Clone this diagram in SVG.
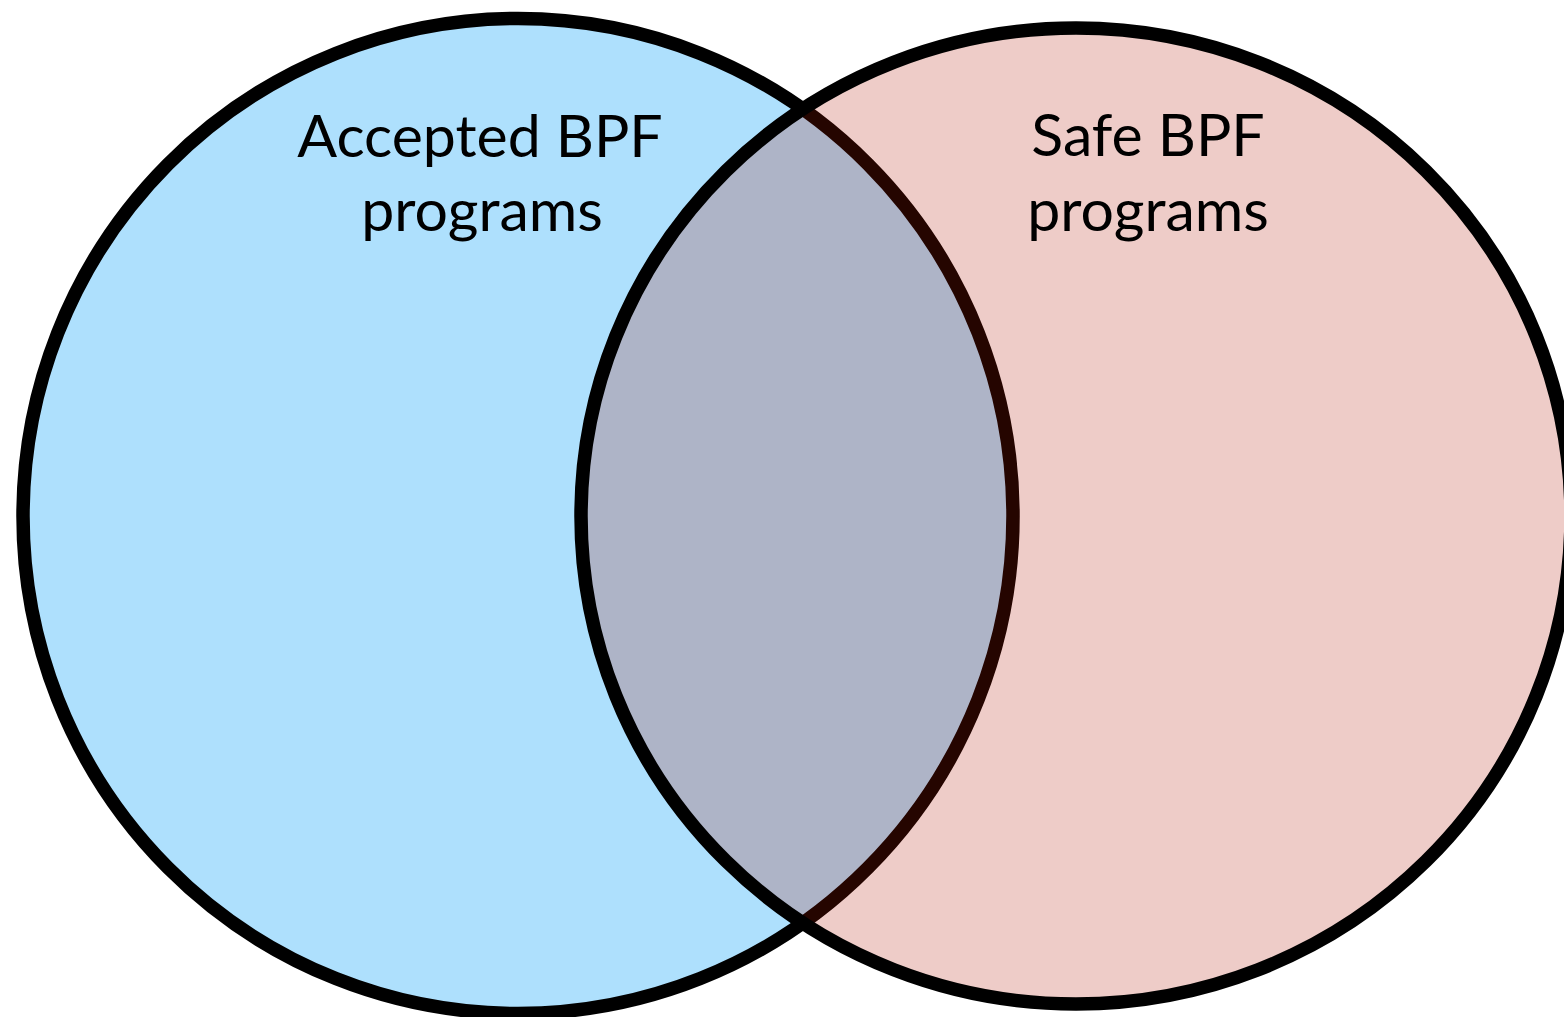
<svg xmlns="http://www.w3.org/2000/svg" width="1564" height="1017" viewBox="0 0 1564 1017">
<style>
.lbl{font-family:Lato,"Open Sans","Liberation Sans",sans-serif;font-size:59px;fill:#000;text-anchor:middle}
.ring{fill:none;stroke:#000;stroke-width:13.5}
</style>
<defs>
<clipPath id="rightClip"><ellipse cx="1076" cy="516" rx="495" ry="488"/></clipPath>
</defs>
<rect width="1564" height="1017" fill="#fff"/>
<g id="accepted">
<ellipse cx="518" cy="516" rx="495" ry="497.5" fill="#AEE0FD" stroke="#000" stroke-width="13.5"/>
<text class="lbl" x="480" y="157">Accepted BPF</text>
<text class="lbl" x="482" y="231">programs</text>
</g>
<g id="safe">
<ellipse cx="1076" cy="516" rx="495" ry="488" fill="#EECCC8"/>
<text class="lbl" x="1148" y="156">Safe BPF</text>
<text class="lbl" x="1148" y="231">programs</text>
</g>
<g id="overlap" clip-path="url(#rightClip)">
<ellipse cx="518" cy="516" rx="495" ry="497.5" fill="#AEB4C7" stroke="#250500" stroke-width="13.5"/>
</g>
<g id="outlines">
<ellipse class="ring" cx="1076" cy="516" rx="495" ry="488"/>
</g>
</svg>
